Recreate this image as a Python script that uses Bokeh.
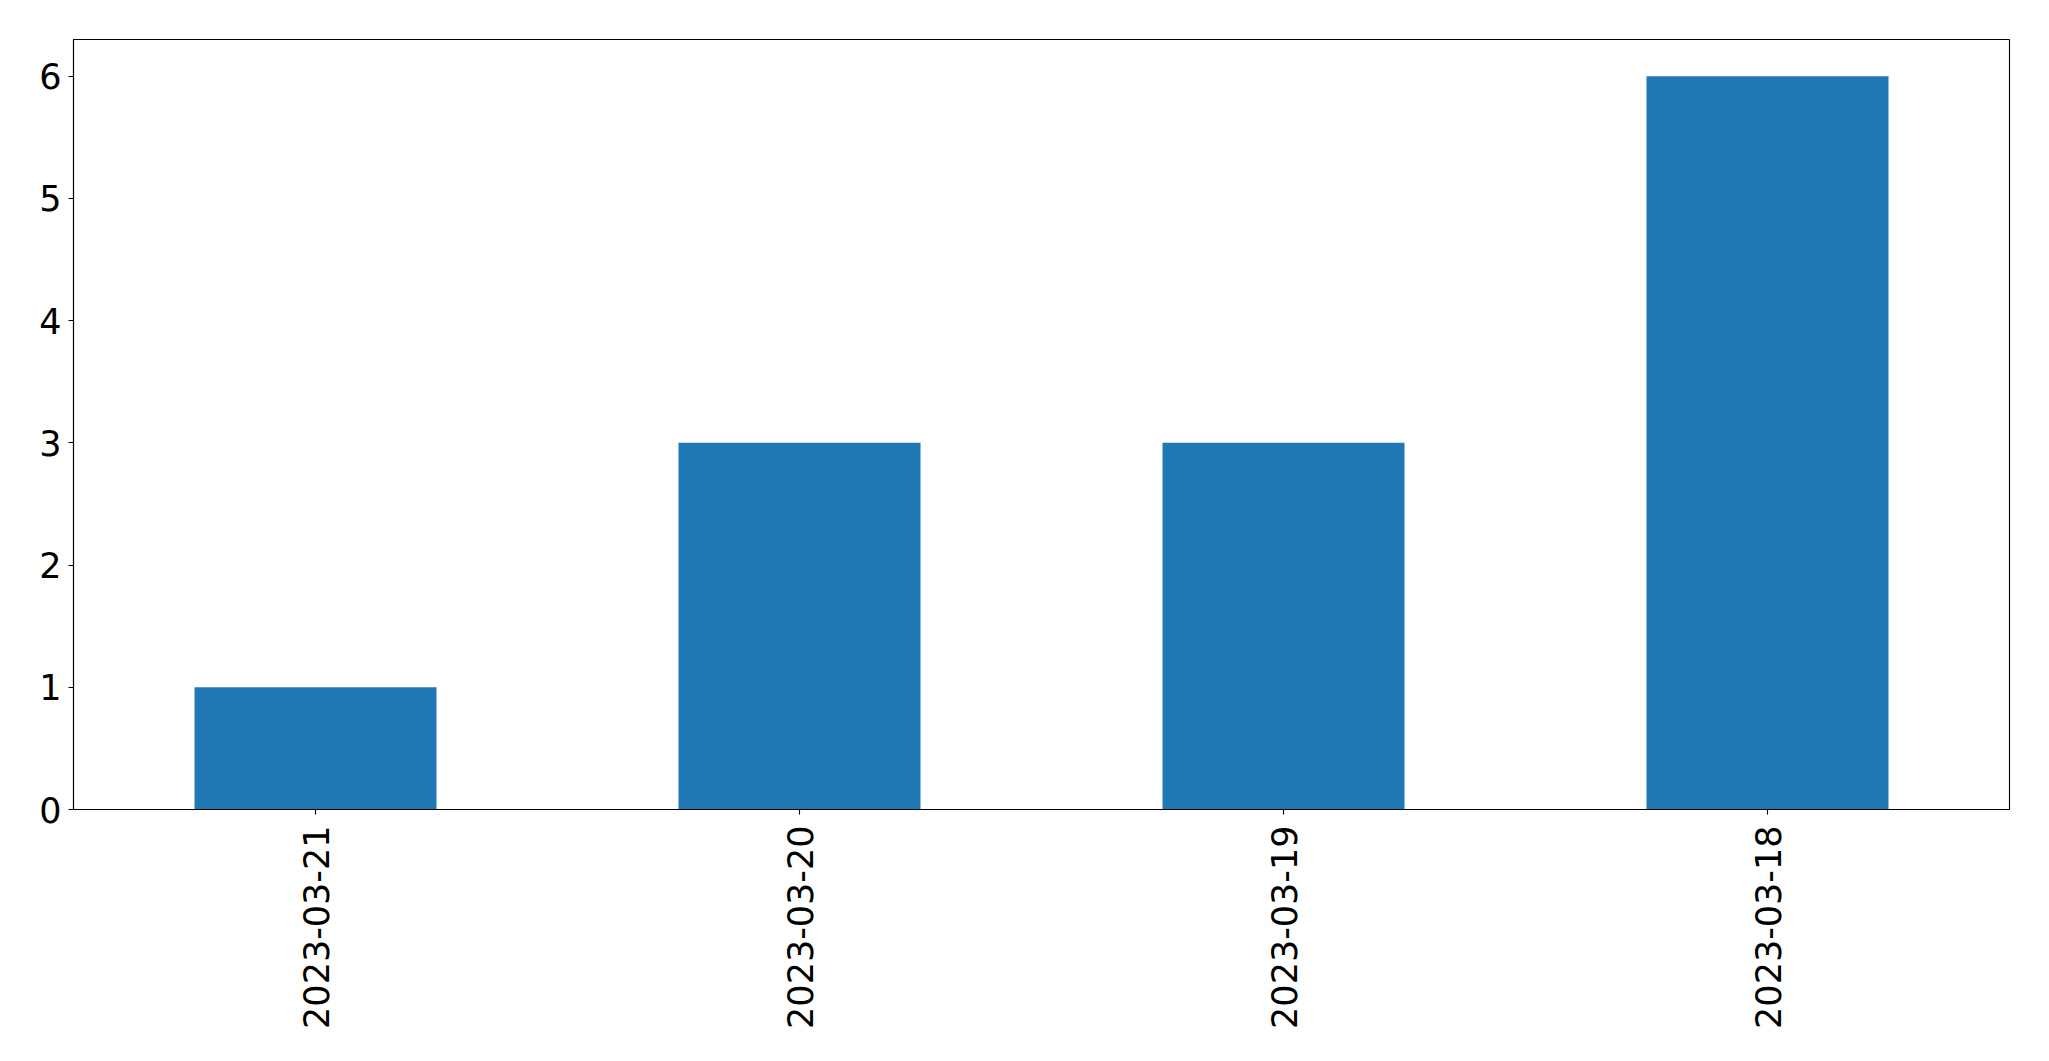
from bokeh.plotting import figure
from bokeh.models import FactorRange, Range1d, FixedTicker, ColumnDataSource
from bokeh.embed import file_html
from bokeh.resources import INLINE
import math

dates = ["2023-03-21", "2023-03-20", "2023-03-19", "2023-03-18"]
counts = [1, 3, 3, 6]
y_ticks = [0, 1, 2, 3, 4, 5, 6]

src = ColumnDataSource(dict(date=dates, count=counts))

p = figure(
    x_range=FactorRange(factors=dates, range_padding=0),
    y_range=Range1d(0, 6.3),
    width=2041, height=1053,
    output_backend="svg", toolbar_location=None,
    min_border_left=73, min_border_right=32, min_border_top=39, min_border_bottom=244,
)
p.vbar(x="date", top="count", width=0.5, source=src, color="#1f77b4", line_color=None)

p.xgrid.visible = False
p.ygrid.visible = False
p.outline_line_color = "black"
p.outline_line_width = 1.1
p.outline_line_alpha = 1

for ax in (p.xaxis, p.yaxis):
    ax.axis_line_color = "black"
    ax.axis_line_width = 1.1
    ax.major_tick_line_color = "black"
    ax.major_tick_line_width = 1.1
    ax.major_tick_out = 5
    ax.major_tick_in = 0
    ax.minor_tick_line_color = None
    ax.major_label_text_font = "DejaVu Sans"
    ax.major_label_text_font_size = "35px"
    ax.major_label_text_color = "black"

p.yaxis.major_label_standoff = 7
p.xaxis.major_label_standoff = 11
p.yaxis.ticker = FixedTicker(ticks=y_ticks)
p.xaxis.major_label_orientation = math.pi / 2

open("out.html", "w").write(file_html(p, INLINE))
